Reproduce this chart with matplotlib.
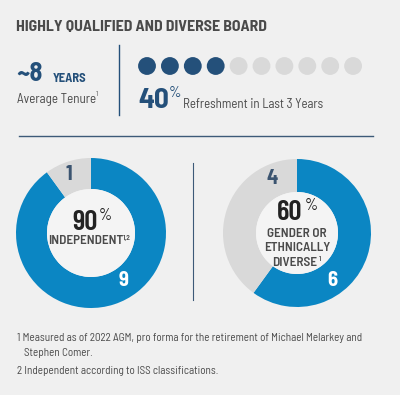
import matplotlib
matplotlib.use("Agg")
import matplotlib.pyplot as plt
import numpy as np

# data
title = "HIGHLY QUALIFIED AND DIVERSE BOARD"
avg_tenure = "~8"
refresh_pct = 40
n_dots = 10
independent = [9, 1]      # independent, not
diverse = [6, 4]          # diverse, not
footnotes = ["1 Measured as of 2022 AGM, pro forma for the retirement of Michael Melarkey and",
             "Stephen Comer.",
             "2 Independent according to ISS classifications."]

bg = "#f0f0f0"
navy = "#24507a"
blue = "#0b86c3"
grey = "#d9d9d9"
txt = "#4a4a4a"
dark = "#222222"
cond = "Barlow Condensed"
plt.rcParams['font.family'] = ["Barlow Semi Condensed", "DejaVu Sans"]

W, H = 400, 395
fig = plt.figure(figsize=(W / 100, H / 100), dpi=100, facecolor=bg)


def donut(cx, cy, r, r_in, vals):
    a = fig.add_axes([(cx - r) / W, 1 - (cy + r) / H, 2 * r / W, 2 * r / H])
    a.pie(vals, colors=[blue, grey], startangle=90, counterclock=False,
          wedgeprops=dict(width=(r - r_in) / r, linewidth=0))
    a.add_patch(plt.Circle((0, 0), r_in / r, color="#f4f4f4", lw=0))
    a.set_xlim(-1, 1)
    a.set_ylim(-1, 1)
    a.set_aspect("auto")
    a.axis("off")


donut(91, 233, 75, 44, independent)
donut(297, 233, 74, 41, diverse)

# overlay axes in pixel coordinates
ax = fig.add_axes([0, 0, 1, 1])
ax.patch.set_alpha(0)
ax.set_xlim(0, W)
ax.set_ylim(H, 0)
ax.axis("off")

ax.text(16, 27, title, fontsize=11.4, fontweight="bold", color=txt, va="center")

# tenure block
ax.text(16, 74, avg_tenure, fontsize=19, fontweight="bold", color=navy, va="center")
ax.text(53, 78, "YEARS", fontsize=9, fontweight="bold", color=navy, va="center")
ax.text(17, 99, "Average Tenure", fontsize=9.4, color=txt, va="center")
ax.text(96, 95, "1", fontsize=5, color=txt, va="center")
ax.plot([119, 119], [45, 115], color=navy, lw=1)

# refreshment dots
xs = 147 + np.arange(n_dots) * 22.9
filled = int(round(refresh_pct / 100 * n_dots))
cols = [navy] * filled + [grey] * (n_dots - filled)
ax.scatter(xs, np.full(n_dots, 66), s=165, c=cols, linewidths=0)
ax.text(138, 100, f"{refresh_pct}", fontsize=21, fontweight="bold", color=navy, va="center")
ax.text(168.5, 93, "%", fontsize=11, color=navy, va="center")
ax.text(183, 105, "Refreshment in Last 3 Years", fontsize=9.3, color=txt, va="center")

ax.plot([19, 373], [136, 136], color="#3d5a78", lw=1)
ax.plot([193, 193], [163, 300], color="#3d5a78", lw=0.8)

# left donut labels
pct_l = round(100 * independent[0] / sum(independent))
ax.text(85, 222.5, f"{pct_l}", fontsize=21, fontweight=600, color=dark, ha="center", va="center",
        family=cond)
ax.text(105, 215, "%", fontsize=12, color=dark, ha="center", va="center", family=cond)
ax.text(86, 241, "INDEPENDENT", fontsize=9.5, fontweight=600, color=txt, ha="center", va="center")
ax.text(127, 238, "1,2", fontsize=5.5, fontweight=600, color=txt, ha="center", va="center")
ax.text(69, 175, f"{independent[1]}", fontsize=15, fontweight="bold", color="#3b5470", ha="center", va="center")
ax.text(124, 280, f"{independent[0]}", fontsize=15, fontweight="bold", color="white", ha="center", va="center")

# right donut labels
pct_r = round(100 * diverse[0] / sum(diverse))
ax.text(290, 212.5, f"{pct_r}", fontsize=21, fontweight=600, color=dark, ha="center", va="center",
        family=cond)
ax.text(311, 205, "%", fontsize=12, color=dark, ha="center", va="center", family=cond)
ax.text(297, 234, "GENDER OR", fontsize=9.5, fontweight=600, color=txt, ha="center", va="center")
ax.text(297, 248, "ETHNICALLY", fontsize=9.5, fontweight=600, color=txt, ha="center", va="center")
ax.text(295, 262.5, "DIVERSE", fontsize=9.5, fontweight=600, color=txt, ha="center", va="center")
ax.text(320, 259, "1", fontsize=5, fontweight=600, color=txt, ha="center", va="center")
ax.text(272, 179, f"{diverse[1]}", fontsize=15, fontweight="bold", color="#3b5470", ha="center", va="center")
ax.text(332, 280, f"{diverse[0]}", fontsize=15, fontweight="bold", color="white", ha="center", va="center")

# footnotes
for line, x, y in zip(footnotes, [17, 24, 17], [338, 353, 371]):
    ax.text(x, y, line, fontsize=8, color=txt, va="center")

fig.savefig("out.png", dpi=100, facecolor=bg)
